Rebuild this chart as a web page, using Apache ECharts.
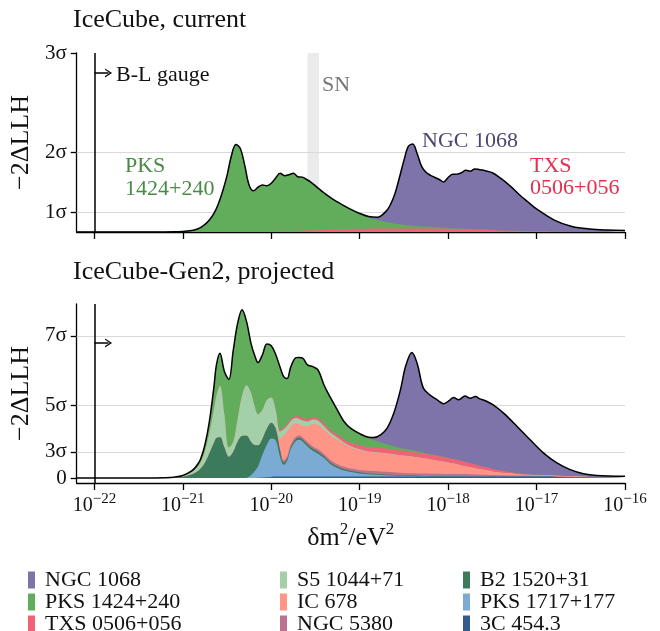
<!DOCTYPE html>
<html><head><meta charset="utf-8">
<script src="https://cdn.jsdelivr.net/npm/echarts@6/dist/echarts.min.js"></script>
<style>html,body{margin:0;padding:0;background:#fff}#c{width:660px;height:631px}</style>
</head><body><div id="c"></div>
<script>
// ---------------- DATA (x values are log10 of dm^2 / eV^2) ----------------
const X_TOP = [-22.2,-22.0,-21.8,-21.6,-21.4,-21.2,-21.1,-21.0,-20.95,-20.9,-20.85,-20.8,-20.75,-20.7,-20.65,-20.6,-20.55,-20.5,-20.45,-20.4,-20.35,-20.3,-20.25,-20.2,-20.15,-20.1,-20.05,-20.0,-19.95,-19.9,-19.85,-19.8,-19.75,-19.7,-19.65,-19.6,-19.55,-19.5,-19.4,-19.3,-19.2,-19.1,-19.0,-18.9,-18.8,-18.7,-18.65,-18.6,-18.55,-18.5,-18.45,-18.4,-18.35,-18.3,-18.25,-18.2,-18.1,-18.05,-18.0,-17.95,-17.9,-17.85,-17.8,-17.75,-17.7,-17.65,-17.6,-17.5,-17.4,-17.3,-17.2,-17.1,-17.0,-16.8,-16.6,-16.4,-16.2,-16.0];

// layer thickness values, listed from the bottom of the stack upwards
const TOP_TXS = [0,0,0,0,0,0,0,0,0,0,0,0,0,0,0,0,0,0,0,0,0,0,0,0,0,0,0,0,0,
  .01,.02,.03,.04,.05,.06,.07,.08,.09,.11,.13,.14,.15,.16,.16,.17,.17,
  .17,.17,.17,.17,.17,.17,.17,.17,.17,.17,
  .16,.16,.16,.15,.15,.15,.14,.14,.13,.13,.12,.10,.08,.06,.05,.03,.02,.01,0,0,0,0];
const TOP_PKS = [0,0,0,.001,.002,.005,.012,.03,.05,.08,.13,.22,.38,.6,.92,1.4,2.05,2.85,3.85,4.4,4.2,3.35,2.35,2.07,2.25,2.36,2.33,2.45,2.72,
  2.94,2.81,2.85,2.92,2.73,2.70,2.57,2.42,2.23,1.84,1.51,1.24,.99,.77,.56,.43,.33,.29,.25,.22,.19,.17,.15,.13,.11,.10,.09,.06,.05,.04,.03,.02,.02,.01,
  0,0,0,0,0,0,0,0,0,0,0,0,0,0,0];
const TOP_NGC = [0,0,0,0,0,0,0,0,0,0,0,0,0,0,0,0,0,0,0,0,0,0,0,0,0,0,0,0,0,0,0,0,0,0,0,0,0,0,0,0,0,0,0,
  .06,.14,.55,.94,1.53,2.36,3.24,3.96,4.10,3.63,3.02,2.73,2.59,2.42,2.31,2.54,2.72,2.74,2.81,2.95,2.92,3.04,3.01,2.98,2.88,2.60,2.26,1.85,1.49,1.14,.59,.28,.15,.10,.08];

const X_BOT = [-22.2,-22.0,-21.8,-21.6,-21.4,-21.2,-21.1,-21.0,-20.9,-20.85,-20.8,-20.75,-20.7,-20.65,-20.62,-20.58,-20.53,-20.48,-20.43,-20.38,-20.33,-20.28,-20.23,-20.19,-20.15,-20.1,-20.05,-20.0,-19.95,-19.9,-19.86,-19.82,-19.78,-19.72,-19.68,-19.64,-19.59,-19.53,-19.47,-19.4,-19.33,-19.25,-19.18,-19.1,-19.0,-18.9,-18.84,-18.76,-18.69,-18.61,-18.54,-18.48,-18.41,-18.35,-18.28,-18.2,-18.12,-18.05,-17.98,-17.94,-17.88,-17.81,-17.75,-17.69,-17.64,-17.56,-17.49,-17.37,-17.22,-17.07,-16.92,-16.77,-16.62,-16.47,-16.32,-16.0];

const BOT_3C454 = [0,0,0,0,0,0,0,0,0,0,0,0,0,0,0,0,0,0,0,0,0,0,0,0,.1,.2,.3,.4,
  .5,.5,.5,.5,.5,.5,.5,.5,.5,.5,.5,.5,.5,.5,.5,.5,.5,.5,.5,.5,.5,.5,.5,.5,.5,.5,.5,.5,.5,.5,.5,.5,.5,.5,.5,.5,.5,.5,.5,.5,.5,.5,.5,
  .4,.3,.2,.15,.1];
const BOT_PKS1717 = [0,0,0,0,0,0,0,0,0,0,0,0,0,0,0,0,0,0,0,0,0,
  .1,1.0,2.3,3.9,7.8,11.2,13.2,12.5,6.7,4.1,5.5,9.5,12.3,12.7,11.9,10.4,8.9,7.9,6.3,4.3,3.0,2.1,1.6,1.1,.8,.7,.6,.5,.4,.3,.25,.2,.15,.1,.05,.03,.02,.01,
  0,0,0,0,0,0,0,0,0,0,0,0,0,0,0,0,0];
const BOT_B2 = [0,0,.005,.01,.02,.05,.12,.4,1.2,2.0,3.2,5.3,8.5,12.0,13.8,14.1,10.5,7.3,9.0,12.5,14.5,14.5,11.5,9.1,7.3,5.5,5.5,5.5,4.0,2.3,.8,
  .7,.7,.7,.7,.7,.7,.7,.7,.6,.6,.5,.5,.4,.4,.3,.3,.25,.25,.2,.2,.15,.15,.15,.15,.15,.12,.1,.1,.08,.07,.06,.05,.04,.03,.02,.02,.01,
  0,0,0,0,0,0,0,0];
const BOT_NGC5380 = [0,0,0,0,0,0,0,0,0,0,0,0,0,0,0,0,0,0,0,0,0,0,0,0,0,0,0,0,
  .1,.3,.8,.8,.8,.8,.8,.8,.8,.8,.8,.8,.8,.8,.8,.8,.8,
  .9,.9,.9,.9,.9,.8,.8,.8,.8,.8,.8,.8,.8,.8,.8,.8,.8,.75,.7,.65,.6,.5,.42,.35,.3,.25,.2,.18,.15,.12,.1];
const BOT_IC678 = [0,0,0,0,0,0,0,0,0,0,0,0,0,0,0,0,0,0,0,0,0,0,0,0,0,0,0,0,
  .3,3.7,8.4,8.5,6.3,4.6,3.8,4.1,5.4,7.7,8.4,8.4,8.5,8.4,7.9,7.3,6.8,6.5,6.4,6.35,6.25,6.1,6.0,5.9,5.75,5.5,5.25,4.9,4.55,4.18,3.79,3.62,3.23,2.74,2.4,2.06,1.82,1.48,1.18,.8,.5,.3,.2,.18,.15,.12,.1,.08];
const BOT_S5 = [0,0,.003,.005,.015,.04,.1,.3,.8,1.3,2.1,4.0,7.0,11.5,14.7,17.7,11.5,3.2,3.5,8.0,14.0,17.4,17.0,13.6,10.7,10.0,10.0,8.7,6.1,2.5,2.2,2.0,1.8,1.8,1.8,1.8,1.7,1.6,1.5,1.2,.9,.7,.5,.4,.3,.2,.2,.15,.12,.1,.08,.06,.05,.04,.03,.02,.01,
  0,0,0,0,0,0,0,0,0,0,0,0,0,0,0,0,0,0,0];
const BOT_TXS = [0,0,0,0,0,0,0,0,0,0,0,0,0,0,0,0,0,0,0,0,0,0,0,0,0,0,0,0,
  .1,.4,.6,.7,.7,.7,.8,.8,.8,.8,.8,.8,.9,1.0,1.1,1.2,1.3,1.4,1.5,1.6,1.6,1.6,1.6,1.6,1.6,1.6,1.6,1.6,1.6,1.6,1.55,1.5,1.5,1.45,1.4,1.3,1.2,1.0,.85,.6,.3,.1,.03,
  0,0,0,0,0];
const BOT_PKS = [0,0,.002,.005,.015,.03,.08,.2,.5,.7,1.2,2.2,4.0,7.5,10.5,11.2,14.7,23.5,31.5,32.9,29.5,22.0,17.0,17.5,17.8,19.0,19.2,17.8,
  19.0,21.8,17.6,15.6,18.0,20.1,20.5,20.6,18.7,17.4,16.6,13.2,11.2,8.4,6.2,4.9,4.1,3.3,2.5,1.95,1.5,1.2,.9,.75,.6,.5,.4,.3,.2,.13,.08,.06,.04,.02,.01,
  0,0,0,0,0,0,0,0,0,0,0,0,0];
const BOT_NGC = [0,0,0,0,0,0,0,0,0,0,0,0,0,0,0,0,0,0,0,0,0,0,0,0,0,0,0,0,0,0,0,0,0,0,0,0,0,0,0,0,0,0,0,0,0,
  .2,1.0,2.7,5.58,11.8,19.92,28.59,33.65,30.26,22.17,20.18,19.09,18.27,20.07,21.24,20.86,22.73,22.39,23.5,23.1,22.8,22.15,19.97,16.15,11.9,7.62,4.42,2.27,1.03,.53,.32];

const TOP_ORDER = ['TXS 0506+056','PKS 1424+240','NGC 1068'];
const TOP_LAYERS = [TOP_TXS, TOP_PKS, TOP_NGC];
const BOT_ORDER = ['3C 454.3','PKS 1717+177','B2 1520+31','NGC 5380','IC 678','S5 1044+71','TXS 0506+056','PKS 1424+240','NGC 1068'];
const BOT_LAYERS = [BOT_3C454, BOT_PKS1717, BOT_B2, BOT_NGC5380, BOT_IC678, BOT_S5, BOT_TXS, BOT_PKS, BOT_NGC];

const LEGEND_COLS = [
  ['NGC 1068','PKS 1424+240','TXS 0506+056'],
  ['S5 1044+71','IC 678','NGC 5380'],
  ['B2 1520+31','PKS 1717+177','3C 454.3']
];

const X_TICKS = [-22,-21,-20,-19,-18,-17,-16];
const Y_TOP_TICKS = [1,4,9];      const Y_TOP_LABELS = ['1σ','2σ','3σ'];
const Y_BOT_TICKS = [0,9,25,49];  const Y_BOT_LABELS = ['0','3σ','5σ','7σ'];
const GRID_TOP = [1,4];
const GRID_BOT = [9,25,49];
const SN_BAND = [-19.59,-19.46];
const GAUGE_X = -22;

// ---------------- STYLE ----------------
const FONT = '"Liberation Serif", "DejaVu Serif", serif';
const C = {
  'NGC 1068':'#7e74a9','PKS 1424+240':'#61ad5b','TXS 0506+056':'#ef6278',
  'S5 1044+71':'#a3d0a8','IC 678':'#fe9586','NGC 5380':'#b9738f',
  'B2 1520+31':'#3b7b5c','PKS 1717+177':'#7baad3','3C 454.3':'#305b8c'
};
const SMOOTH = 0.35;

const gridLineMark = vals => ({silent:true, symbol:'none', z:1, label:{show:false},
  lineStyle:{color:'#d9d9d9', width:1, type:'solid'}, data: vals.map(v=>({yAxis:v}))});

const arrowPath = 'path://M0,10 L5,0 L10,10 L8.4,10 L5,3.2 L1.6,10 Z';
const gaugeMark = (yArrow) => ({silent:true, z:6, label:{show:false}, symbol:'none',
  lineStyle:{color:'#000', width:1.5, type:'solid'},
  data:[
    {xAxis:GAUGE_X},
    [{coord:[GAUGE_X, yArrow], symbol:'none'}, {coord:[GAUGE_X+0.16, yArrow], symbol:arrowPath, symbolSize:[9,7]}]
  ]});

// build the stacked panel: cumulative sums of the layers, painted from the top layer down
function panel(xs, names, layers, idx, firstExtra, arrowY) {
  const cums = [];
  let run = xs.map(() => 0);
  layers.forEach(l => { run = run.map((v, i) => v + l[i]); cums.push(run); });
  const out = [];
  for (let k = layers.length - 1; k >= 0; k--) {
    const s = {
      name: names[k], type:'line', xAxisIndex:idx, yAxisIndex:idx, smooth:SMOOTH,
      symbol:'none', showSymbol:false, z:2, emphasis:{disabled:true},
      data: xs.map((x, i) => [x, cums[k][i]]),
      itemStyle:{color:C[names[k]]},
      areaStyle:{color:C[names[k]], opacity:1},
      lineStyle:{width:0, opacity:0}
    };
    if (k === layers.length - 1) Object.assign(s, firstExtra);
    out.push(s);
  }
  out.push({
    name:'total-' + idx, type:'line', xAxisIndex:idx, yAxisIndex:idx, smooth:SMOOTH,
    symbol:'none', showSymbol:false, z:3, emphasis:{disabled:true},
    data: xs.map((x, i) => [x, cums[layers.length - 1][i]]),
    itemStyle:{color:'#000'}, lineStyle:{color:'#000', width:1.5},
    markLine: gaugeMark(arrowY)
  });
  return out;
}

const series = [
  ...panel(X_TOP, TOP_ORDER, TOP_LAYERS, 0, {
    markLine: gridLineMark(GRID_TOP),
    markArea:{silent:true, z:1, itemStyle:{color:'#ebebeb'}, data:[[{xAxis:SN_BAND[0]},{xAxis:SN_BAND[1]}]]}
  }, 8),
  ...panel(X_BOT, BOT_ORDER, BOT_LAYERS, 1, {markLine: gridLineMark(GRID_BOT)}, 46.6)
];

const axisBlack = {color:'#000', width:1.3};
function xAxis(idx, showLabels) {
  return {
    type:'value', gridIndex:idx, min:-22.2, max:-16, position:'bottom',
    axisLine:{show:true, onZero:false, lineStyle:axisBlack},
    axisTick:{show:true, customValues:X_TICKS, length:7, lineStyle:axisBlack},
    axisLabel:{show:showLabels, customValues:X_TICKS, margin:9,
      formatter: v => '{b|10}{s|−' + Math.abs(v) + '}',
      rich:{ b:{fontFamily:FONT, fontSize:20, color:'#111', lineHeight:24, verticalAlign:'bottom'},
             s:{fontFamily:FONT, fontSize:15, color:'#111', lineHeight:15, verticalAlign:'top'} } },
    splitLine:{show:false},
    name: showLabels ? '{a|δm}{s|2}{a|/eV}{s|2}' : '',
    nameLocation:'middle', nameGap:38,
    nameTextStyle:{ rich:{ a:{fontFamily:FONT, fontSize:26, color:'#111', lineHeight:30, verticalAlign:'bottom'},
                           s:{fontFamily:FONT, fontSize:17, color:'#111', lineHeight:17, verticalAlign:'top'} } }
  };
}
function yAxis(idx, min, max, ticks, labels) {
  return {
    type:'value', gridIndex:idx, min, max,
    axisLine:{show:true, onZero:false, lineStyle:axisBlack},
    axisTick:{show:true, customValues:ticks, length:6, lineStyle:axisBlack},
    axisLabel:{customValues:ticks, margin:10, fontFamily:FONT, fontSize:21, color:'#111',
      formatter: v => labels[ticks.indexOf(v)]},
    splitLine:{show:false},
    name:'−2ΔLLH', nameLocation:'middle', nameRotate:90, nameGap:35,
    nameTextStyle:{fontFamily:FONT, fontSize:26, color:'#111'}
  };
}

// one narrow horizontal legend per column: every item wraps onto its own row
function legend(names, left) {
  return {
    orient:'horizontal', left, top:569, width:1, padding:0, itemWidth:7, itemHeight:17, itemGap:0,
    icon:'rect', selectedMode:false,
    textStyle:{fontFamily:FONT, fontSize:22, color:'#111', lineHeight:21, padding:[0,0,0,5]},
    data: names.map(n=>({name:n, itemStyle:{color:C[n], borderWidth:0}}))
  };
}

const txt = (text, x, y, size, color) => ({type:'text', x, y, silent:true,
  style:{text, font:`${size}px ${FONT}`, fill:color, verticalAlign:'middle', align:'left'}});

const option = {
  animation:false,
  backgroundColor:'#fff',
  grid:[
    {left:75, right:35, top:53, height:179},
    {left:75, right:35, top:304, height:179}
  ],
  xAxis:[xAxis(0,false), xAxis(1,true)],
  yAxis:[yAxis(0,0,9,Y_TOP_TICKS,Y_TOP_LABELS), yAxis(1,-1.7,60,Y_BOT_TICKS,Y_BOT_LABELS)],
  legend:[
    legend(LEGEND_COLS[0], 28),
    legend(LEGEND_COLS[1], 280),
    legend(LEGEND_COLS[2], 463)
  ],
  graphic:[
    txt('IceCube, current', 73, 20, 26, '#111'),
    txt('IceCube-Gen2, projected', 73, 272, 26, '#111'),
    txt('B-L gauge', 116, 75, 22, '#111'),
    txt('SN', 322, 85, 22, '#777'),
    txt('PKS', 125, 166, 22, '#4a8a44'),
    txt('1424+240', 125, 189, 22, '#4a8a44'),
    txt('NGC 1068', 422, 141, 22, '#4b4672'),
    txt('TXS', 530, 166, 22, '#e4304e'),
    txt('0506+056', 530, 188, 22, '#e4304e')
  ],
  series
};

const chart = echarts.init(document.getElementById('c'), null, {renderer:'canvas', devicePixelRatio:1});
chart.setOption(option);
</script>
</body></html>
